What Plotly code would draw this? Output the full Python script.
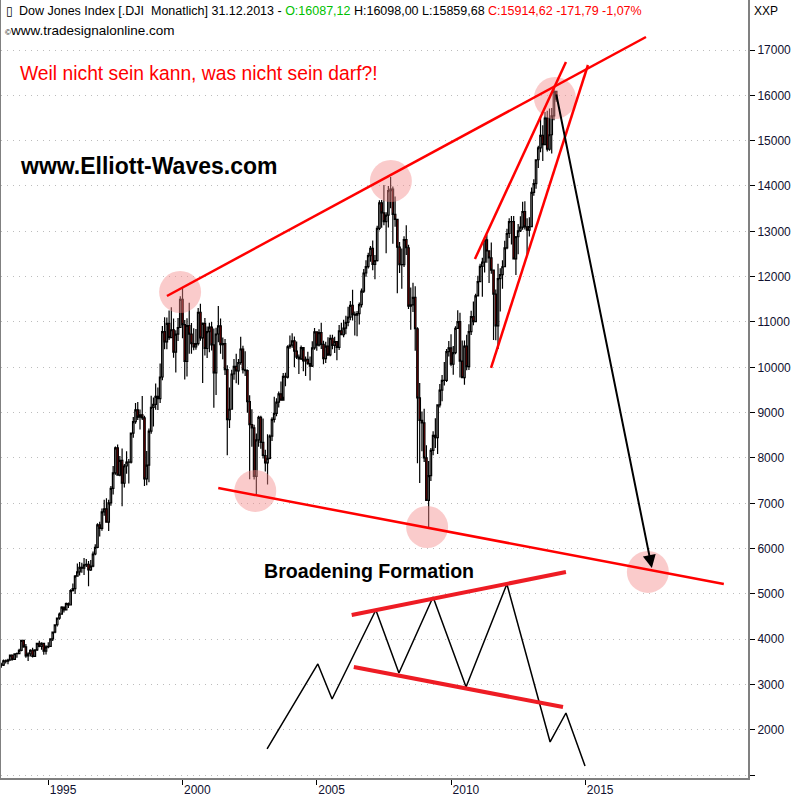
import plotly.graph_objects as go

# ---------------- DATA ----------------
start_year = 1993
start_month = 4  # April 1993
first_open = 3435

closes = [
 3428, 3527, 3516, 3540, 3651, 3555, 3681, 3684, 3754,
 3978, 3832, 3636, 3681, 3758, 3625, 3765, 3913, 3843, 3908, 3739, 3834,
 3844, 4011, 4158, 4321, 4465, 4556, 4709, 4650, 4789, 4756, 5075, 5117,
 5395, 5486, 5587, 5569, 5643, 5655, 5529, 5616, 5882, 6029, 6522, 6448,
 6813, 6878, 6584, 7009, 7331, 7673, 8223, 7622, 7945, 7442, 7823, 7908,
 7907, 8546, 8800, 9063, 8900, 8952, 8883, 7539, 7843, 8592, 9117, 9181,
 9359, 9307, 9786, 10789, 10560, 10971, 10655, 10829, 10337, 10730, 10878, 11497,
 10941, 10128, 10922, 10734, 10522, 10448, 10522, 11215, 10651, 10971, 10415, 10787,
 10887, 10495, 9879, 10735, 10912, 10502, 10523, 9950, 8848, 9075, 9852, 10021,
 9920, 10106, 10404, 9946, 9925, 9243, 8737, 8664, 7592, 8397, 8896, 8342,
 8054, 7891, 7992, 8480, 8850, 8985, 9234, 9416, 9275, 9801, 9782, 10454,
 10488, 10584, 10358, 10226, 10188, 10435, 10140, 10174, 10080, 10027, 10428, 10783,
 10490, 10766, 10504, 10193, 10467, 10275, 10641, 10482, 10569, 10440, 10806, 10718,
 10865, 10993, 11109, 11367, 11168, 11150, 11186, 11381, 11679, 12081, 12222, 12463,
 12622, 12269, 12354, 13063, 13628, 13409, 13212, 13358, 13896, 13930, 13372, 13265,
 12650, 12266, 12263, 12820, 12638, 11350, 11378, 11544, 10851, 9325, 8829, 8776,
 8001, 7063, 7609, 8168, 8500, 8447, 9172, 9496, 9712, 9713, 10345, 10428,
 10067, 10325, 10857, 11009, 10137, 9774, 10466, 10015, 10788, 11118, 11006, 11578,
 11892, 12226, 12320, 12811, 12570, 12414, 12143, 11614, 10913, 11955, 12046, 12218,
 12633, 12952, 13212, 13214, 12393, 12880, 13009, 13091, 13437, 13096, 13026, 13104,
 13861, 14054, 14579, 14840, 15116, 14910, 15500, 14810, 15130, 15546, 16086, 15914.62,
]
highs = [
 3480, 3555, 3553, 3568, 3652, 3652, 3687, 3711, 3794,
 3978, 3985, 3896, 3712, 3783, 3814, 3780, 3917, 3967, 3937, 3902, 3867,
 3932, 4015, 4172, 4331, 4475, 4590, 4731, 4724, 4809, 4813, 5105, 5229,
 5419, 5670, 5705, 5689, 5794, 5769, 5729, 5749, 5935, 6094, 6562, 6594,
 6884, 7079, 7113, 7081, 7384, 7822, 8255, 8299, 8045, 8210, 7867, 8150,
 7977, 8560, 8906, 9211, 9234, 9069, 9367, 8932, 8154, 8651, 9374, 9334,
 9643, 9556, 10085, 10910, 11107, 11099, 11252, 11326, 11079, 10816, 11089, 11568,
 11750, 11041, 11082, 11425, 10975, 10863, 10843, 11310, 11401, 10991, 11087, 10899,
 10983, 11000, 10858, 10875, 11350, 11075, 10660, 10622, 10046, 9554, 9944, 10184,
 10300, 10185, 10673, 10473, 10353, 9950, 9386, 9077, 8734, 8538, 8932, 8931,
 8869, 8183, 8522, 8515, 8898, 9351, 9315, 9468, 9686, 9874, 9882, 10484,
 10702, 10753, 10678, 10570, 10280, 10480, 10369, 10236, 10341, 10239, 10573, 10868,
 10784, 10842, 10985, 10588, 10565, 10663, 10720, 10719, 10674, 10573, 10932, 10984,
 11048, 11137, 11335, 11464, 11709, 11229, 11242, 11430, 11736, 12167, 12361, 12529,
 12674, 12795, 12480, 13121, 13684, 13692, 14022, 13423, 14000, 14198, 13986, 13767,
 13279, 12767, 12622, 12891, 13136, 12703, 11760, 11867, 11790, 10882, 9654, 9026,
 9088, 8280, 7932, 8221, 8588, 8877, 9172, 9630, 9829, 10119, 10406, 10580,
 10729, 10469, 10907, 11258, 11205, 10594, 10593, 10720, 10948, 11245, 11451, 11625,
 12020, 12284, 12419, 12876, 12929, 12580, 12753, 12144, 11717, 12284, 12188, 12360,
 12794, 13055, 13290, 13339, 13338, 12898, 13159, 13330, 13653, 13661, 13290, 13311,
 13969, 14150, 14585, 14888, 15542, 15341, 15634, 15658, 15709, 15721, 16174, 16098.00,
]
lows = [
 3370, 3413, 3466, 3449, 3536, 3534, 3550, 3595, 3673,
 3735, 3816, 3594, 3520, 3619, 3599, 3617, 3739, 3824, 3769, 3661, 3665,
 3800, 3833, 3961, 4135, 4284, 4433, 4556, 4589, 4643, 4688, 4752, 5053,
 5000, 5377, 5409, 5469, 5420, 5592, 5170, 5504, 5587, 5852, 6016, 6268,
 6395, 6726, 6575, 6391, 6948, 7196, 7629, 7616, 7599, 6936, 7350, 7650,
 7436, 7877, 8445, 8754, 8839, 8627, 8837, 7379, 7400, 7467, 8535, 8695,
 9063, 9056, 9213, 9713, 10396, 10400, 10603, 10645, 10212, 9885, 10580, 10875,
 10639, 9731, 9797, 10300, 10299, 10376, 10390, 10482, 10584, 9654, 10262, 10206,
 10330, 10372, 9106, 9389, 10555, 10300, 10176, 9828, 8062, 8659, 9073, 9726,
 9650, 9613, 10057, 9866, 9808, 8999, 7532, 8247, 7527, 7197, 8246, 8204,
 7988, 7702, 7416, 7969, 8376, 8781, 8923, 9111, 9275, 9348, 9582, 9752,
 10408, 10432, 10000, 10184, 9852, 10164, 9913, 9808, 10054, 9708, 10009, 10387,
 10368, 10459, 10404, 10070, 10094, 10249, 10246, 10397, 10318, 10156, 10381, 10709,
 10661, 10730, 10907, 11036, 11031, 10699, 10683, 10947, 11321, 11638, 11996, 12178,
 12326, 12142, 11940, 12334, 13025, 13080, 13135, 12518, 13086, 13508, 12724, 13100,
 11634, 12079, 11731, 12214, 12479, 11288, 10827, 11221, 10365, 7882, 7449, 8149,
 7909, 7050, 6470, 7491, 8062, 8221, 8087, 9116, 9252, 9596, 9677, 10236,
 10026, 9836, 10286, 10844, 9774, 9757, 9614, 9936, 9939, 10711, 10929, 11005,
 11577, 11892, 11555, 12093, 12309, 11862, 12066, 10604, 10597, 10404, 11232, 11735,
 12217, 12602, 12850, 12710, 12391, 12035, 12492, 12985, 13036, 13039, 12471, 12883,
 13104, 13784, 13937, 14398, 14746, 14552, 14911, 14760, 14777, 14719, 15449, 15859.68,
]
last_open = 16087.12  # December 2013 open (from header)

# annotation geometry in data units (decimal year, index points)
upper_trend_x = [1999.42, 2017.26]
upper_trend_y = [11573, 17287]
lower_trend_x = [2001.33, 2020.16]
lower_trend_y = [7338, 5220]
wedge_left_x = [2010.89, 2014.28]
wedge_left_y = [12389, 16735]
wedge_right_x = [2011.49, 2015.10]
wedge_right_y = [9985, 16669]
arrow_tail = (2013.91, 16051)
arrow_head = (2017.48, 5573)
circle_x = [1999.91, 2007.76, 2013.87, 2002.71, 2009.11, 2017.33]
circle_y = [11661, 14110, 15941, 7272, 6477, 5485]
zig_x = [2003.15, 2005.04, 2005.57, 2007.20, 2008.06, 2009.33, 2010.56, 2012.08, 2013.69, 2014.28, 2014.99]
zig_y = [1580, 3455, 2683, 4646, 3256, 4933, 2948, 5220, 1735, 2374, 1205]
zig_upper_x = [2006.30, 2014.28]
zig_upper_y = [4536, 5485]
zig_lower_x = [2006.38, 2014.17]
zig_lower_y = [3389, 2507]

y_ticks = list(range(1000, 18000, 1000))
y_ticktext = ["" if v == 1000 else str(v) for v in y_ticks]
x_ticks = [1995, 2000, 2005, 2010, 2015]

# ---------------- BUILD ----------------
n = len(closes)
xs = []
for i in range(n):
    m = start_month - 1 + i
    xs.append(start_year + (m // 12) + (m % 12) / 12.0)
opens = [first_open] + closes[:-1]
opens[-1] = last_open

fig = go.Figure()
fig.add_trace(go.Candlestick(
    x=xs, open=opens, high=highs, low=lows, close=closes,
    increasing=dict(line=dict(color="black", width=1.2), fillcolor="white"),
    decreasing=dict(line=dict(color="black", width=1.2), fillcolor="#ff0000"),
    whiskerwidth=0, showlegend=False, hoverinfo="skip",
))
fig.add_trace(go.Scatter(
    x=circle_x, y=circle_y, mode="markers",
    marker=dict(size=42, color="rgba(245,140,140,0.45)", line=dict(width=0)),
    showlegend=False, hoverinfo="skip",
))
for lx, ly in [(upper_trend_x, upper_trend_y), (lower_trend_x, lower_trend_y),
               (wedge_left_x, wedge_left_y), (wedge_right_x, wedge_right_y)]:
    fig.add_trace(go.Scatter(x=lx, y=ly, mode="lines",
                             line=dict(color="#ff0000", width=2.5),
                             showlegend=False, hoverinfo="skip"))
fig.add_trace(go.Scatter(x=zig_x, y=zig_y, mode="lines",
                         line=dict(color="black", width=1.5),
                         showlegend=False, hoverinfo="skip"))
for lx, ly in [(zig_upper_x, zig_upper_y), (zig_lower_x, zig_lower_y)]:
    fig.add_trace(go.Scatter(x=lx, y=ly, mode="lines",
                             line=dict(color="#ee1c24", width=4),
                             showlegend=False, hoverinfo="skip"))

fig.add_annotation(x=arrow_head[0], y=arrow_head[1], ax=arrow_tail[0], ay=arrow_tail[1],
                   xref="x", yref="y", axref="x", ayref="y", text="",
                   showarrow=True, arrowhead=2, arrowsize=1.3, arrowwidth=2,
                   arrowcolor="black")

FONT = "Liberation Sans, Arial, sans-serif"
W = 747.0
H = 778.0

def px(xp):
    return (xp - 1) / W

def py(yp):
    return 1 - yp / H

header = ("<span style='color:black'>Dow Jones Index [.DJI  Monatlich] 31.12.2013 - </span>"
          "<span style='color:#00c000'>O:16087,12 </span>"
          "<span style='color:black'>H:16098,00 L:15859,68 </span>"
          "<span style='color:#ff0000'>C:15914,62 -171,79 -1,07%</span>")
fig.add_annotation(xref="paper", yref="paper", x=px(4), y=py(11), text="▯",
                   showarrow=False, xanchor="left", yanchor="middle",
                   font=dict(family="DejaVu Sans", size=12, color="black"))
fig.add_annotation(xref="paper", yref="paper", x=px(17), y=py(11), text=header,
                   showarrow=False, xanchor="left", yanchor="middle",
                   font=dict(family=FONT, size=12.5, color="black"))
fig.add_annotation(xref="paper", yref="paper", x=px(3), y=py(30),
                   text="<span style='font-size:8px'>©</span>www.tradesignalonline.com",
                   showarrow=False, xanchor="left", yanchor="middle",
                   font=dict(family=FONT, size=13.5, color="black"))
fig.add_annotation(xref="paper", yref="paper", x=px(752), y=py(11), text="XXP",
                   showarrow=False, xanchor="left", yanchor="middle",
                   font=dict(family=FONT, size=12, color="black"))
fig.add_annotation(xref="paper", yref="paper", x=px(18), y=py(74),
                   text="Weil nicht sein kann, was nicht sein darf?!",
                   showarrow=False, xanchor="left", yanchor="middle",
                   font=dict(family=FONT, size=19.3, color="#ff0000"))
fig.add_annotation(xref="paper", yref="paper", x=px(18), y=py(166),
                   text="<b>www.Elliott-Waves.com</b>",
                   showarrow=False, xanchor="left", yanchor="middle",
                   font=dict(family=FONT, size=23, color="black"))
fig.add_annotation(xref="paper", yref="paper", x=px(262), y=py(571),
                   text="<b>Broadening Formation</b>",
                   showarrow=False, xanchor="left", yanchor="middle",
                   font=dict(family=FONT, size=19.6, color="black"))

fig.update_layout(
    width=800, height=800,
    margin=dict(l=1, r=52, t=0, b=22),
    paper_bgcolor="white", plot_bgcolor="white",
    font=dict(family=FONT, size=12, color="black"),
    showlegend=False,
    boxgap=0.05,
    xaxis=dict(range=[1993.24, 2021.06], rangeslider=dict(visible=False),
               tickvals=x_ticks, ticktext=[str(v) for v in x_ticks],
               ticks="outside", ticklen=5, tickcolor="black",
               ticklabelposition="outside right",
               showgrid=False, zeroline=False,
               showline=True, linecolor="#808080", linewidth=2,
               tickfont=dict(family=FONT, size=12, color="#101030")),
    yaxis=dict(range=[940, 18103], side="right",
               tickvals=y_ticks, ticktext=y_ticktext,
               ticks="outside", ticklen=5, tickcolor="black",
               showgrid=True, gridcolor="#bcbcbc", griddash="1px,5px", gridwidth=1,
               zeroline=False, showline=True, mirror=True,
               linecolor="#808080", linewidth=2,
               tickfont=dict(family=FONT, size=12, color="#101030")),
)

fig.write_html("out.html", config={"displayModeBar": False},
               post_script="document.body.style.margin='0';document.body.style.overflow='hidden';")
